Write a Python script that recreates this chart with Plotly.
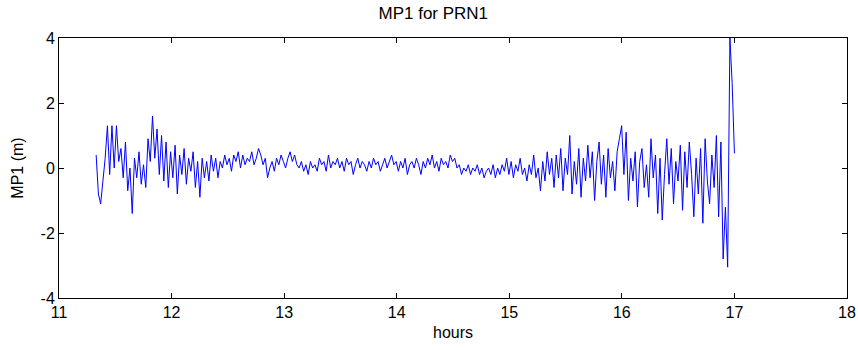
import numpy as np
import plotly.graph_objects as go

t_start = 11.33
t_end = 17.00

mp1 = [
    0.4, -0.8, -1.1, -0.4, 0.3, 1.3, -0.2, 1.3, 0.0, 1.3,
    0.2, 0.6, -0.3, 0.8, -0.7, 0.0, -1.4, 0.3, -0.3, 0.5,
    -0.5, 0.1, -0.6, 0.9, 0.2, 1.6, 0.3, 1.2, -0.2, 1.0,
    -0.4, 0.8, -0.6, 0.5, -0.3, 0.7, -0.8, 0.4, -0.2, 0.6,
    -0.5, 0.3, -0.1, 0.5, -0.6, 0.2, -0.9, 0.3, -0.3, 0.2,
    -0.4, 0.4, -0.1, 0.3, -0.3, 0.2, 0.0, 0.4, 0.1, 0.3,
    -0.1, 0.4, 0.2, 0.5, 0.0, 0.4, 0.1, 0.3, 0.2, 0.5,
    0.1, 0.3, 0.6, 0.4, 0.1, 0.3, -0.3, 0.0, 0.2, -0.1,
    0.3, 0.1, 0.4, 0.2, 0.0, 0.3, 0.5, 0.2, 0.4, 0.1,
    0.0, 0.2, -0.1, 0.1, -0.2, 0.2, 0.0, 0.1, -0.1, 0.3,
    0.1, 0.2, -0.1, 0.4, 0.0, 0.2, 0.1, 0.3, 0.0, 0.2,
    -0.1, 0.3, 0.1, 0.2, -0.2, 0.1, 0.3, 0.0, 0.2, 0.1,
    -0.1, 0.2, 0.0, 0.3, 0.1, 0.2, -0.1, 0.1, 0.3, 0.0,
    0.2, 0.4, 0.1, 0.2, -0.1, 0.2, 0.0, 0.3, -0.2, 0.1,
    0.2, 0.0, 0.3, 0.1, -0.2, 0.2, 0.0, 0.3, 0.1, 0.4,
    0.0, 0.2, -0.1, 0.3, 0.1, 0.2, 0.0, 0.4, 0.2, 0.3,
    0.0, 0.1, -0.2, 0.0, -0.1, 0.1, -0.2, 0.0, -0.1, 0.1,
    -0.2, 0.0, -0.3, -0.1, 0.0, -0.2, 0.1, -0.3, 0.0, -0.2,
    0.1, -0.1, 0.3, -0.2, 0.2, -0.3, 0.1, -0.1, 0.3, -0.2,
    0.0, -0.4, 0.1, -0.2, 0.4, -0.3, 0.0, -0.7, 0.2, -0.4,
    0.5, -0.2, 0.3, -0.6, 0.4, -0.3, 0.6, -0.7, 0.3, -0.2,
    1.0, -0.8, 0.2, -0.5, 0.6, -0.9, 0.3, -0.4, 0.7, -0.3,
    0.5, -1.0, 0.2, 0.8, -0.5, 0.4, -0.9, 0.6, -0.3, 0.2,
    -0.7, 0.5, 0.9, 1.3, -0.2, 1.1, -1.0, 0.3, -0.4, 0.5,
    -1.2, 0.2, 0.6, -0.6, 0.1, -0.9, 0.9, -0.3, 0.4, -1.4,
    0.3, -1.6, -0.2, 0.9, -0.5, 0.6, -1.1, 0.2, -0.4, 0.7,
    -1.3, 0.5, -0.6, 0.8, -0.2, -1.5, 0.3, -0.8, 0.6, -1.7,
    0.9, -0.4, -1.1, 0.4, -0.6, 1.0, -1.5, 0.8, -2.8, -1.2,
    -3.05, 4.0, 2.6, 0.45,
]

hours = np.linspace(t_start, t_end, len(mp1))

x_ticks = [11, 12, 13, 14, 15, 16, 17, 18]
y_ticks = [-4, -2, 0, 2, 4]

fig = go.Figure()
fig.add_trace(go.Scatter(
    x=hours, y=mp1, mode="lines",
    line=dict(color="#0000ff", width=1),
    showlegend=False, hoverinfo="skip",
))

axis_common = dict(
    showline=True, linecolor="black", linewidth=1, mirror="allticks",
    ticks="inside", ticklen=5, tickcolor="black", tickwidth=1,
    showgrid=False, zeroline=False, automargin=False,
    tickfont=dict(size=16, color="black"),
)

fig.update_layout(
    width=858, height=350,
    margin=dict(l=59, r=11, t=38, b=52),
    paper_bgcolor="white", plot_bgcolor="white",
    font=dict(family="Liberation Sans, Arial, sans-serif", size=16, color="black"),
    title=dict(text="MP1 for PRN1", x=0.505, xanchor="center", y=0.98, yanchor="top",
               font=dict(size=17, color="black")),
    xaxis=dict(range=[11, 18], tickvals=x_ticks, ticktext=[str(v) for v in x_ticks],
               title=dict(text="hours", font=dict(size=16), standoff=6), **axis_common),
    yaxis=dict(range=[-4, 4], tickvals=y_ticks, ticktext=[str(v) for v in y_ticks],
               title=dict(text="MP1 (m)", font=dict(size=16), standoff=12), **axis_common),
)

fig.write_html("out.html")
